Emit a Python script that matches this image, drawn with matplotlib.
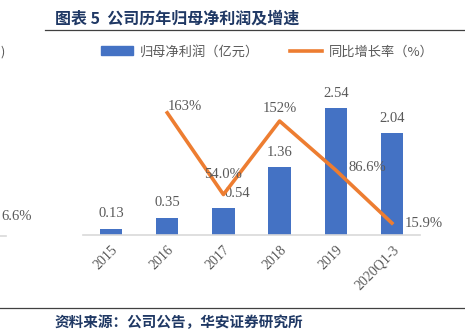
import numpy as np
import matplotlib
matplotlib.use("Agg")
import matplotlib.pyplot as plt
from matplotlib.lines import Line2D
from matplotlib.patches import Patch

years = ['2015', '2016', '2017', '2018', '2019', '2020Q1-3']
profit = [0.13, 0.35, 0.54, 1.36, 2.54, 2.04]
growth = [np.nan, 163, 54.0, 152, 86.6, 15.9]
growth_labels = ['', '163%', '54.0%', '152%', '86.6%', '15.9%']

cjk = ['Noto Sans CJK SC', 'DejaVu Sans']
serif = ['Liberation Serif', 'DejaVu Serif']
grey = '#595959'
navy = '#1F3864'

fig = plt.figure(figsize=(4.65, 3.31), dpi=100)
ax = fig.add_axes([0.1785, 0.29, 0.7247, 0.453])
ax2 = ax.twinx()

x = np.arange(len(years))
ax.bar(x, profit, width=0.4, color='#4472C4', zorder=2)
for xi, v in zip(x, profit):
    # the 2017 label sits a little to the right, clear of the line
    dx = 10 if xi == 2 else 0
    ax.annotate('%.2f' % v, (xi, v), xytext=(dx, 6), textcoords='offset points',
                ha='center', va='bottom', fontsize=10.5, color=grey, family=serif)
ax.set_xlim(-0.5, len(years) - 0.5)
ax.set_ylim(0, 3.0)

ax2.plot(x, growth, color='#ED7D31', lw=2.6, zorder=3)
ax2.set_ylim(0, 200)
offsets = {1: (0, 0, 'left'), 2: (0, 10, 'center'), 3: (0, 4, 'center'),
           4: (9, -3, 'left'), 5: (9, -5, 'left')}
for i, (dx, dy, ha) in offsets.items():
    ax2.annotate(growth_labels[i], (x[i], growth[i]), xytext=(dx, dy),
                 textcoords='offset points', ha=ha, va='bottom',
                 fontsize=10.5, color=grey, family=serif)

for a in (ax, ax2):
    for s in ['top', 'right', 'left']:
        a.spines[s].set_visible(False)
    a.set_yticks([])
ax2.spines['bottom'].set_visible(False)
ax.spines['bottom'].set_color('#D9D9D9')
ax.spines['bottom'].set_linewidth(1.2)
ax.set_xticks(x)
ax.set_xticklabels(years, rotation=45, ha='right', rotation_mode='anchor',
                   fontsize=10, color=grey, family=serif)
ax.tick_params(axis='x', length=0, pad=6)

handles = [Patch(color='#4472C4'), Line2D([0], [0], color='#ED7D31', lw=2.6)]
fig.legend(handles, ['归母净利润（亿元）', '同比增长率（%）'], loc='center',
           bbox_to_anchor=(0.575, 0.843), ncol=2, frameon=False,
           prop={'family': cjk, 'size': 9.5}, labelcolor=grey,
           handlelength=2.4, columnspacing=2.4, handletextpad=0.5)

# title, rules and source
fig.text(0.118, 0.945, '图表 5  公司历年归母净利润及增速', fontsize=11.5,
         fontweight='bold', color=navy, family=cjk, va='center')
fig.add_artist(Line2D([0.097, 1.0], [0.909, 0.909], color='#404040', lw=0.9))
fig.add_artist(Line2D([0.0, 1.0], [0.07, 0.07], color='#404040', lw=0.9))
fig.text(0.118, 0.027, '资料来源：公司公告，华安证券研究所', fontsize=10.5,
         fontweight='bold', color=navy, family=cjk, va='center')

# leftovers of the neighbouring chart at the left edge
fig.text(0.002, 0.843, ')', fontsize=9, color=grey, family=cjk, va='center')
fig.text(0.002, 0.345, '6.6%', fontsize=10.5, color=grey, family=serif, va='center')
fig.add_artist(Line2D([0.0, 0.012], [0.287, 0.287], color='#D9D9D9', lw=1.2))

fig.savefig('out.png', dpi=100)
